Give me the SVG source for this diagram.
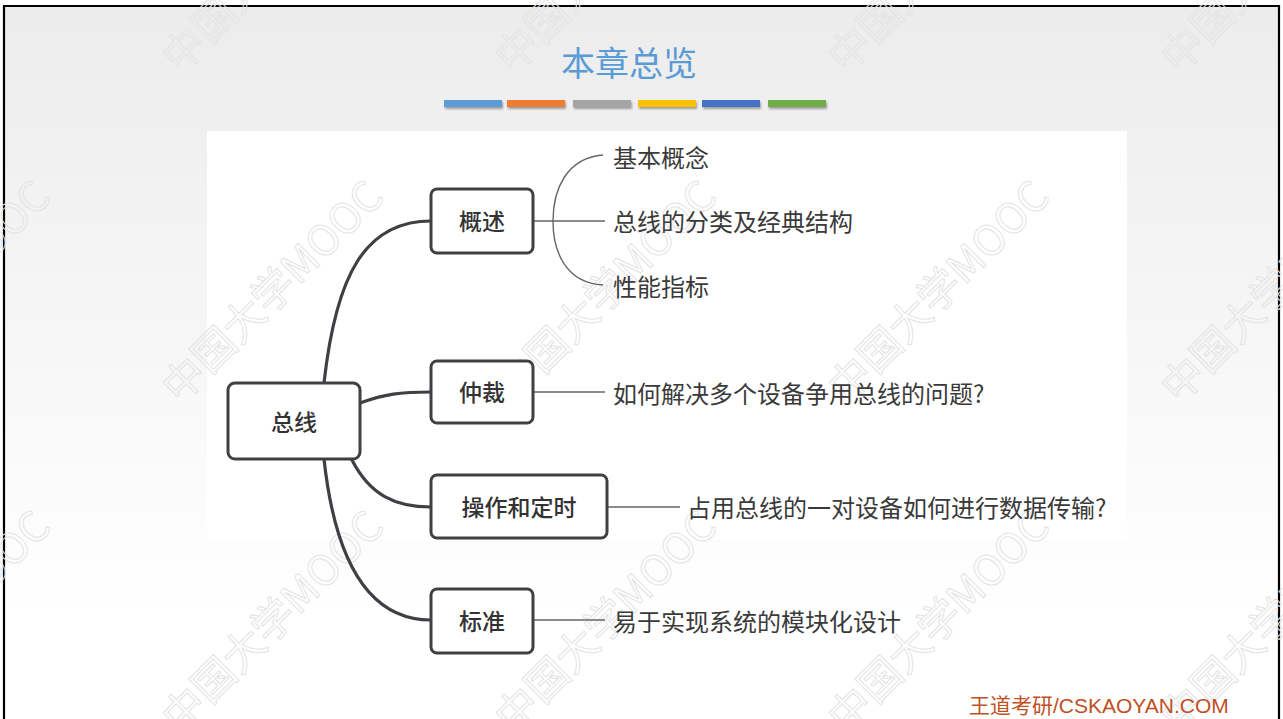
<svg xmlns="http://www.w3.org/2000/svg" width="1283" height="719" viewBox="0 0 1283 719">
<defs>
<linearGradient id="bg" x1="0" y1="0" x2="0" y2="1">
<stop offset="0" stop-color="#ececec"/>
<stop offset="0.85" stop-color="#ffffff"/>
<stop offset="1" stop-color="#ffffff"/>
</linearGradient>
<filter id="sh" x="-10%" y="-50%" width="120%" height="250%">
<feDropShadow dx="1" dy="2" stdDeviation="1.2" flood-color="#000" flood-opacity="0.35"/>
</filter>
</defs>
<style>
.node rect{fill:#fff;stroke:#3e4044;stroke-width:3}
.node text{font-family:"Noto Sans CJK SC",sans-serif;font-size:23px;font-weight:500;fill:#333;text-anchor:middle;dominant-baseline:central}
.lbl{font-family:"Noto Sans CJK SC",sans-serif;font-size:24px;fill:#3a3a3a;dominant-baseline:central}
.thick{fill:none;stroke:#3e4044;stroke-width:3.2;stroke-linecap:round}
.thin{fill:none;stroke:#666;stroke-width:1.4}
.wm{font-family:"Noto Sans CJK SC",sans-serif;font-size:42px;fill:none;stroke:#e4e4e4;stroke-width:1}
</style>
<rect x="0" y="0" width="1283" height="719" fill="#fff"/>
<rect x="4" y="6" width="1275" height="713" fill="url(#bg)"/>
<rect x="207" y="131" width="920" height="409" fill="#fff"/>
<path d="M4,719 V6 H1279 V719" fill="none" stroke="#000" stroke-width="2.2"/>

<g id="watermark">
<text class="wm" transform="translate(180,75) rotate(-45)">中国大学MOOC</text>
<text class="wm" transform="translate(513,75) rotate(-45)">中国大学MOOC</text>
<text class="wm" transform="translate(846,75) rotate(-45)">中国大学MOOC</text>
<text class="wm" transform="translate(1179,75) rotate(-45)">中国大学MOOC</text>
<text class="wm" transform="translate(-153,405) rotate(-45)">中国大学MOOC</text>
<text class="wm" transform="translate(180,405) rotate(-45)">中国大学MOOC</text>
<text class="wm" transform="translate(513,405) rotate(-45)">中国大学MOOC</text>
<text class="wm" transform="translate(846,405) rotate(-45)">中国大学MOOC</text>
<text class="wm" transform="translate(1179,405) rotate(-45)">中国大学MOOC</text>
<text class="wm" transform="translate(-153,735) rotate(-45)">中国大学MOOC</text>
<text class="wm" transform="translate(180,735) rotate(-45)">中国大学MOOC</text>
<text class="wm" transform="translate(513,735) rotate(-45)">中国大学MOOC</text>
<text class="wm" transform="translate(846,735) rotate(-45)">中国大学MOOC</text>
<text class="wm" transform="translate(1179,735) rotate(-45)">中国大学MOOC</text>
</g>

<g id="title">
<text x="629" y="76" text-anchor="middle" font-family="Noto Sans CJK SC, sans-serif" font-size="34" fill="#5b9bd5">本章总览</text>
<g filter="url(#sh)">
<rect x="444" y="100" width="58" height="7" fill="#5b9bd5"/>
<rect x="507" y="100" width="58" height="7" fill="#ed7d31"/>
<rect x="573" y="100" width="58" height="7" fill="#a5a5a5"/>
<rect x="638" y="100" width="58" height="7" fill="#ffc000"/>
<rect x="702" y="100" width="58" height="7" fill="#4472c4"/>
<rect x="768" y="100" width="58" height="7" fill="#70ad47"/>
</g>
</g>

<g id="connectors">
<path class="thick" d="M324,383 C336,275 365,221 431,221"/>
<path class="thick" d="M360,403 C385,394 400,392 431,392"/>
<path class="thick" d="M352,460 C370,495 395,507 431,507"/>
<path class="thick" d="M324,459 C335,560 368,620 431,620"/>
<path class="thin" d="M533,221 H605"/>
<path class="thin" d="M603,155 C566,158 553,190 553,221 C553,252 566,283 603,285"/>
<path class="thin" d="M533,392 H605"/>
<path class="thin" d="M607,507 H680"/>
<path class="thin" d="M533,620 H605"/>
</g>

<g id="node-bus" class="node"><rect x="228" y="383" width="132" height="76" rx="7"/><text x="294" y="421">总线</text></g>
<g id="node-overview" class="node"><rect x="431" y="189" width="102" height="64" rx="6"/><text x="482" y="220">概述</text></g>
<g id="node-arbitration" class="node"><rect x="431" y="361" width="102" height="62" rx="6"/><text x="482" y="391">仲裁</text></g>
<g id="node-operation" class="node"><rect x="431" y="475" width="176" height="63" rx="6"/><text x="519" y="506">操作和定时</text></g>
<g id="node-standard" class="node"><rect x="431" y="589" width="102" height="64" rx="6"/><text x="482" y="620">标准</text></g>

<g id="labels">
<text class="lbl" x="613" y="156">基本概念</text>
<text class="lbl" x="613" y="220">总线的分类及经典结构</text>
<text class="lbl" x="613" y="285">性能指标</text>
<text class="lbl" x="613" y="392">如何解决多个设备争用总线的问题?</text>
<text class="lbl" x="687" y="506">占用总线的一对设备如何进行数据传输?</text>
<text class="lbl" x="613" y="620">易于实现系统的模块化设计</text>
</g>

<g id="footer">
<text x="969" y="713" font-family="Liberation Sans, Noto Sans CJK SC, sans-serif" font-size="21" fill="#c0501f">王道考研/CSKAOYAN.COM</text>
</g>
</svg>
